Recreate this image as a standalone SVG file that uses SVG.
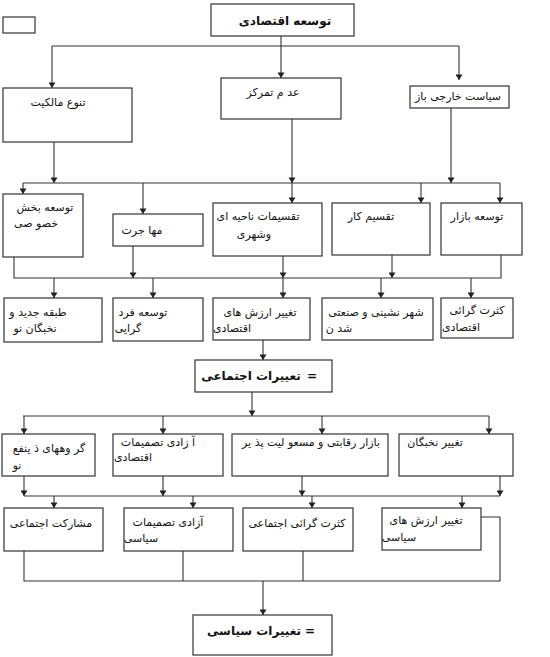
<svg xmlns="http://www.w3.org/2000/svg" width="550" height="657" viewBox="0 0 550 657">
<style>
.box{fill:#fff;stroke:#333;stroke-width:1.2}
.c{fill:none;stroke:#333;stroke-width:1.1}
.a{marker-end:url(#ah)}
text{font-family:"DejaVu Sans","Noto Sans",sans-serif;font-size:11px;fill:#111;text-anchor:middle}
.b{font-size:12px;font-weight:bold}
</style>
<defs>
<marker id="ah" viewBox="0 0 8 10" refX="8" refY="5" markerWidth="8" markerHeight="7" markerUnits="userSpaceOnUse" orient="auto">
<path d="M0,0 L8,5 L0,10 Z" fill="#222"/>
</marker>
</defs>
<rect width="550" height="657" fill="#fff"/>
<rect class="box" x="3" y="17" width="32" height="16"/>

<g id="connectors">
<path class="c" d="M281,36 V46 M52,46 H459"/>
<path class="c a" d="M52,46 V88"/>
<path class="c a" d="M281,46 V78"/>
<path class="c a" d="M459,46 V80"/>
<path class="c a" d="M54,142 V183"/>
<path class="c a" d="M292,119 V183"/>
<path class="c a" d="M451,108 V183"/>
<path class="c" d="M23,183 H500"/>
<path class="c a" d="M23,183 V194"/>
<path class="c a" d="M143,183 V214"/>
<path class="c a" d="M292,183 V203"/>
<path class="c a" d="M421,183 V203"/>
<path class="c a" d="M500,183 V203"/>
<path class="c" d="M14,257 V278 H501 V255"/>
<path class="c a" d="M133,246 V278"/>
<path class="c a" d="M283,256 V278"/>
<path class="c a" d="M392,255 V278"/>
<path class="c a" d="M54,278 V298"/>
<path class="c a" d="M153,278 V298"/>
<path class="c a" d="M283,278 V298"/>
<path class="c a" d="M381,278 V298"/>
<path class="c a" d="M471,278 V298"/>
<path class="c a" d="M263,340 V360"/>
<path class="c a" d="M252,392 V416"/>
<path class="c" d="M23,416 H489"/>
<path class="c a" d="M24,416 V434"/>
<path class="c a" d="M163,416 V434"/>
<path class="c a" d="M322,416 V434"/>
<path class="c a" d="M489,416 V434"/>
<path class="c a" d="M24,476 V496"/>
<path class="c a" d="M163,476 V496"/>
<path class="c a" d="M302,476 V496"/>
<path class="c a" d="M500,476 V496"/>
<path class="c" d="M24,496 H500"/>
<path class="c a" d="M54,496 V508"/>
<path class="c a" d="M193,496 V508"/>
<path class="c a" d="M312,496 V508"/>
<path class="c a" d="M462,496 V508"/>
<path class="c" d="M24,551 V581 H500 V517 H481 M183,551 V581 M303,551 V581"/>
<path class="c a" d="M263,581 V615"/>
</g>

<g id="n_top"><rect class="box" x="211" y="4" width="143" height="32"/><text class="b" x="285" y="25">توسعه اقتصادی</text></g>

<g id="n_malkiyat"><rect class="box" x="3" y="88" width="129" height="54"/><text x="58" y="106">تنوع مالکیت</text></g>
<g id="n_tamarkoz"><rect class="box" x="221" y="78" width="120" height="41"/><text x="273" y="96">عد م تمرکز</text></g>
<g id="n_siasat"><rect class="box" x="410" y="86" width="99" height="22"/><text x="458" y="100">سیاست خارجی باز</text></g>

<g id="n_bakhsh"><rect class="box" x="3" y="194" width="80" height="63"/><text x="45" y="211">توسعه بخش</text><text x="36" y="227">خصو صی</text></g>
<g id="n_mohajerat"><rect class="box" x="113" y="214" width="90" height="32"/><text x="142" y="234">مها جرت</text></g>
<g id="n_taghsimat"><rect class="box" x="213" y="203" width="109" height="53"/><text x="258" y="220">تقسیمات ناحیه ای</text><text x="254" y="238">وشهری</text></g>
<g id="n_taghsimkar"><rect class="box" x="332" y="203" width="98" height="52"/><text x="371" y="220">تقسیم کار</text></g>
<g id="n_bazar"><rect class="box" x="441" y="203" width="81" height="52"/><text x="477" y="220">توسعه بازار</text></g>

<g id="n_tabaghe"><rect class="box" x="4" y="298" width="98" height="44"/><text x="38" y="316">طبقه جدید و</text><text x="35" y="332">نخبگان نو</text></g>
<g id="n_fard"><rect class="box" x="113" y="298" width="90" height="43"/><text x="143" y="316">توسعه فرد</text><text x="128" y="332">گرایی</text></g>
<g id="n_arzesh_eq"><rect class="box" x="213" y="298" width="97" height="42"/><text x="260" y="316">تغییر ارزش های</text><text x="232" y="332">اقتصادی</text></g>
<g id="n_shahr"><rect class="box" x="322" y="298" width="111" height="42"/><text x="376" y="316">شهر نشینی و صنعتی</text><text x="339" y="332">شد ن</text></g>
<g id="n_kesrat_eq"><rect class="box" x="441" y="298" width="72" height="40"/><text x="477" y="314">کثرت گرائی</text><text x="461" y="331">اقتصادی</text></g>

<g id="n_ejtemai"><rect class="box" x="195" y="360" width="137" height="32"/><text class="b" x="251" y="380">تعییرات اجتماعی</text><text class="b" x="312" y="380">=</text></g>

<g id="n_goruh"><rect class="box" x="2" y="434" width="93" height="42"/><text x="49" y="452">گر وههای ذ ینفع</text><text x="17" y="469">نو</text></g>
<g id="n_azadi_eq"><rect class="box" x="113" y="434" width="110" height="42"/><text x="158" y="446">آ زادی تصمیمات</text><text x="133" y="461">اقتصادی</text></g>
<g id="n_reghabati"><rect class="box" x="232" y="434" width="156" height="42"/><text x="311" y="446">بازار رقابتی و مسعو لیت پذ یر</text></g>
<g id="n_nokhbegan"><rect class="box" x="399" y="434" width="114" height="42"/><text x="435" y="446">تغییر نخبگان</text></g>

<g id="n_mosharekat"><rect class="box" x="4" y="508" width="99" height="43"/><text x="51" y="527">مشارکت اجتماعی</text></g>
<g id="n_azadi_siasi"><rect class="box" x="124" y="508" width="109" height="43"/><text x="168" y="526">آزادی تصمیمات</text><text x="141" y="542">سیاسی</text></g>
<g id="n_kesrat_ej"><rect class="box" x="243" y="508" width="110" height="43"/><text x="297" y="527">کثرت گرائی اجتماعی</text></g>
<g id="n_arzesh_siasi"><rect class="box" x="382" y="508" width="99" height="42"/><text x="426" y="524">تغییر ارزش های</text><text x="399" y="541">سیاسی</text></g>

<g id="n_siasi"><rect class="box" x="193" y="615" width="139" height="40"/><text class="b" x="254" y="635">تغییرات سیاسی</text><text class="b" x="310" y="635">=</text></g>
</svg>
